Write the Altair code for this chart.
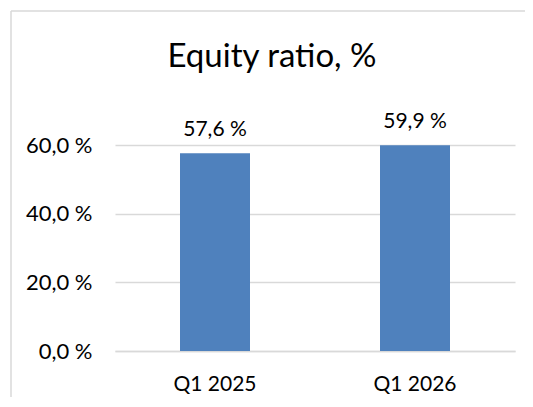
import altair as alt
import pandas as pd

quarters = ["Q1 2025", "Q1 2026"]
equity_ratio = [57.6, 59.9]
y_ticks = [0, 20, 40, 60]

df = pd.DataFrame({"quarter": quarters, "ratio": equity_ratio})

FONT = "Lato"
GRID = "#d9d9d9"
BLUE = "#4f81bd"

x_enc = alt.X(
    "quarter:N",
    sort=quarters,
    scale=alt.Scale(paddingInner=0.65, paddingOuter=0.325),
    axis=alt.Axis(
        title=None, labelAngle=0, ticks=False, tickSize=0, labelPadding=39,
        labelBaseline="alphabetic", labelFontSize=21, labelFont=FONT,
        labelColor="#000000", domainColor=GRID, domainWidth=1.5, grid=False,
    ),
)
y_enc = alt.Y(
    "ratio:Q",
    scale=alt.Scale(domain=[0, 60], nice=False),
    axis=alt.Axis(
        title=None, values=y_ticks, ticks=False, tickSize=0, domain=False,
        labelPadding=23, labelFontSize=22, labelFont=FONT, labelColor="#000000",
        gridColor=GRID, gridWidth=1.5,
        labelExpr="replace(format(datum.value, '.1f'), '.', ',') + ' %'",
    ),
)

base = alt.Chart(df).transform_calculate(
    label="replace(format(datum.ratio, '.1f'), '.', ',') + ' %'"
)

bars = base.mark_bar(color=BLUE).encode(x=x_enc, y=y_enc)
labels = base.mark_text(
    font=FONT, fontSize=21, color="#000000", baseline="alphabetic", dy=-17
).encode(x=alt.X("quarter:N", sort=quarters), y="ratio:Q", text="label:N")

frame = pd.DataFrame({"a": [0]})
left_border = alt.Chart(frame).mark_rule(color=GRID, strokeWidth=1.5).encode(
    x=alt.value(-104), y=alt.value(-134), y2=alt.value(262)
)
top_border = alt.Chart(frame).mark_rule(color=GRID, strokeWidth=1.5).encode(
    x=alt.value(-104), x2=alt.value(420), y=alt.value(-134)
)

chart = alt.layer(left_border, top_border, bars, labels).properties(
    width=400,
    height=206,
    autosize=alt.AutoSizeParams(type="none"),
    padding={"left": 107, "top": 137, "right": 10, "bottom": 46},
    title=alt.TitleParams(
        "Equity ratio, %", font=FONT, fontSize=33, fontWeight="normal",
        color="#000000", anchor="middle", frame="group", dx=-43,
        baseline="alphabetic", offset=-90,
    ),
).configure_view(stroke=None)

chart.save("out.html", embed_options={"renderer": "svg", "actions": False})
